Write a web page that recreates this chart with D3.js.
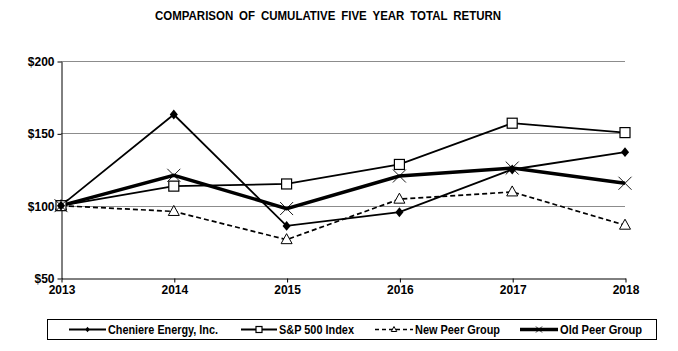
<!DOCTYPE html>
<html>
<head>
<meta charset="utf-8">
<script src="https://cdn.jsdelivr.net/npm/d3@7"></script>
<style>
body { margin: 0; background: #fff; }
svg text { font-family: "Liberation Sans Narrow", "Arial Narrow", "Liberation Sans", Arial, sans-serif; font-weight: bold; fill: #000; }
</style>
</head>
<body>
<div id="chart"></div>
<script>
//data
let years = ["2013", "2014", "2015", "2016", "2017", "2018"];
let cheniere = [100, 163, 86, 95.5, 125, 137];
let sp500 = [100, 113.5, 115, 128.5, 157, 150.5];
let newPeer = [100, 96, 76.5, 104.5, 109.5, 86.5];
let oldPeer = [100, 121, 98, 120.5, 126, 115.5];
let yTicks = [50, 100, 150, 200];
let seriesNames = ["Cheniere Energy, Inc.", "S&P 500 Index", "New Peer Group", "Old Peer Group"];

let width = 678, height = 351;
let margin = {top: 61, right: 53, bottom: 73, left: 61};

let svg = d3.select("#chart").append("svg")
	.attr("width", width)
	.attr("height", height);

const x = d3.scalePoint().domain(years).range([margin.left, width - margin.right]);
const y = d3.scaleLinear().domain([50, 200]).range([height - margin.bottom, margin.top]);

//title
svg.append("text")
	.attr("x", 155).attr("y", 20)
	.attr("textLength", 346)
	.attr("lengthAdjust", "spacingAndGlyphs")
	.style("font-size", "12.5px")
	.style("word-spacing", "3px")
	.text("COMPARISON OF CUMULATIVE FIVE YEAR TOTAL RETURN");

//grid
svg.append("g")
	.selectAll("line")
	.data(yTicks.slice(1))
	.join("line")
	.attr("x1", margin.left).attr("x2", width - margin.right)
	.attr("y1", d => Math.round(y(d)) + 0.5).attr("y2", d => Math.round(y(d)) + 0.5)
	.attr("stroke", "#8c8c8c").attr("stroke-width", 1);

//axes
let yAxis = d3.axisLeft(y).tickValues(yTicks).tickSize(4).tickSizeOuter(0).tickFormat(d => "$" + d);
let gy = svg.append("g")
	.attr("transform", `translate(${margin.left + 0.5},0.5)`)
	.call(yAxis);
gy.select(".domain").attr("stroke", "#000");
gy.selectAll("text").attr("x", -7).style("font-size", "12px");

let xAxis = d3.axisBottom(x).tickSize(4).tickSizeOuter(0);
let gx = svg.append("g")
	.attr("transform", `translate(0.5,${Math.round(y(50)) + 0.5})`)
	.call(xAxis);
gx.selectAll("text").attr("y", 7).style("font-size", "12px");

//series
let line = d3.line().x((d, i) => x(years[i])).y(d => y(d));

function drawSeries(vals, sw, dash) {
	svg.append("path")
		.datum(vals)
		.attr("d", line)
		.attr("fill", "none")
		.attr("stroke", "#000")
		.attr("stroke-width", sw)
		.attr("stroke-dasharray", dash);
}

function marker(g, type, cx, cy, s) {
	if (type == "diamond") {
		g.append("path")
			.attr("d", `M${cx},${cy - s * 0.55}L${cx + s * 0.45},${cy}L${cx},${cy + s * 0.55}L${cx - s * 0.45},${cy}Z`)
			.attr("fill", "#000");
	} else if (type == "square") {
		g.append("rect").attr("x", cx - s / 2).attr("y", cy - s / 2)
			.attr("width", s).attr("height", s)
			.attr("fill", "#fff").attr("stroke", "#000").attr("stroke-width", 1.2);
	} else if (type == "triangle") {
		g.append("path")
			.attr("d", `M${cx},${cy - s * 0.6}L${cx + s * 0.55},${cy + s * 0.4}L${cx - s * 0.55},${cy + s * 0.4}Z`)
			.attr("fill", "#fff").attr("stroke", "#000").attr("stroke-width", 1);
	} else if (type == "x") {
		g.append("path")
			.attr("d", `M${cx - s / 2},${cy - s / 2}L${cx + s / 2},${cy + s / 2}M${cx - s / 2},${cy + s / 2}L${cx + s / 2},${cy - s / 2}`)
			.attr("stroke", "#000").attr("stroke-width", 0.9);
	}
}

drawSeries(newPeer, 1.7, "5,3");
drawSeries(sp500, 1.8, null);
drawSeries(cheniere, 1.8, null);
drawSeries(oldPeer, 3.5, null);

let mk = svg.append("g");
newPeer.forEach((v, i) => marker(mk, "triangle", x(years[i]), y(v), 10));
sp500.forEach((v, i) => marker(mk, "square", x(years[i]), y(v), 10));
cheniere.forEach((v, i) => marker(mk, "diamond", x(years[i]), y(v), 9));
oldPeer.forEach((v, i) => marker(mk, "x", x(years[i]), y(v), 13));

//legend
let leg = svg.append("g");
leg.append("rect")
	.attr("x", 47.5).attr("y", 319.5).attr("width", 609).attr("height", 20)
	.attr("fill", "#fff").attr("stroke", "#000").attr("stroke-width", 1);

let legItems = [
	{name: seriesNames[0], x0: 69, x1: 106, tl: 110, type: "diamond", sw: 1.8, dash: null, s: 5},
	{name: seriesNames[1], x0: 241, x1: 277, tl: 75, type: "square", sw: 1.8, dash: null, s: 6},
	{name: seriesNames[2], x0: 375, x1: 413, tl: 85, type: "triangle", sw: 1.5, dash: "4,3", s: 5},
	{name: seriesNames[3], x0: 520, x1: 558, tl: 82, type: "x", sw: 3.5, dash: null, s: 6}
];
let ly = 329.5;
legItems.forEach(d => {
	leg.append("line")
		.attr("x1", d.x0).attr("x2", d.x1).attr("y1", ly).attr("y2", ly)
		.attr("stroke", "#000").attr("stroke-width", d.sw).attr("stroke-dasharray", d.dash);
	marker(leg, d.type, (d.x0 + d.x1) / 2, ly, d.s);
	leg.append("text")
		.attr("x", d.x1 + 2).attr("y", ly + 4)
		.attr("textLength", d.tl)
		.attr("lengthAdjust", "spacingAndGlyphs")
		.style("font-size", "12px")
		.text(d.name);
});
</script>
</body>
</html>
